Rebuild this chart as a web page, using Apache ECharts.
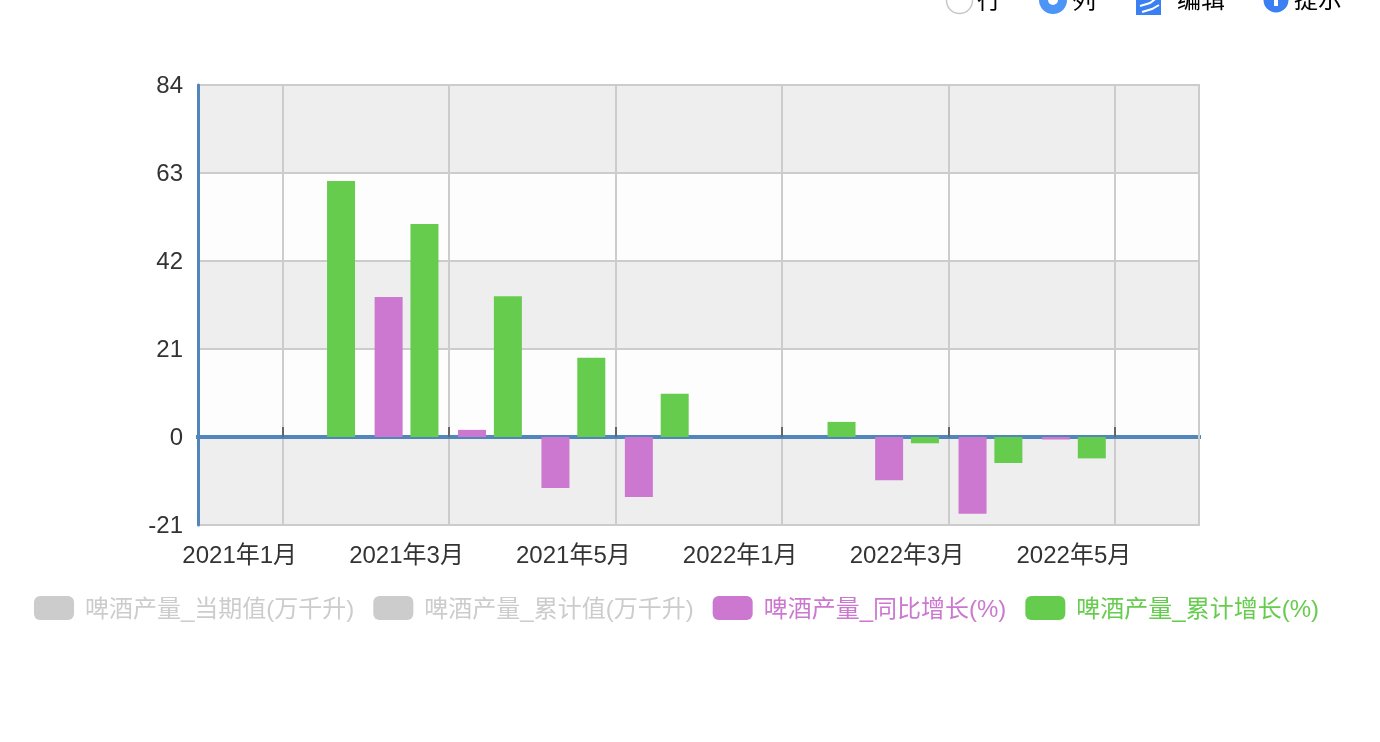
<!DOCTYPE html>
<html>
<head>
<meta charset="utf-8">
<title>啤酒产量</title>
<style>
  html, body { margin: 0; padding: 0; background: #fff; overflow: hidden; }
  #main { width: 1380px; height: 742px; }
</style>
<script src="https://cdn.jsdelivr.net/npm/echarts@6/dist/echarts.min.js"></script>
</head>
<body>
<div id="main"></div>
<script>
const categories = ['2021年1月', '2021年2月', '2021年3月', '2021年4月', '2021年5月', '2021年6月',
  '2022年1月', '2022年2月', '2022年3月', '2022年4月', '2022年5月', '2022年6月'];
const seriesNames = ['啤酒产量_当期值(万千升)', '啤酒产量_累计值(万千升)', '啤酒产量_同比增长(%)', '啤酒产量_累计增长(%)'];
const currentValues = [];
const totalValues = [];
const yoyGrowth = [null, null, 33.4, 1.7, -12.2, -14.3, null, null, -10.3, -18.3, -0.6, null];
const totalGrowth = [null, 61.1, 50.8, 33.6, 18.9, 10.3, null, 3.6, -1.5, -6.2, -5.1, null];
const tickPositions = [1, 3, 5, 7, 9, 11];

const fontFamily = '"Liberation Sans", "Noto Sans CJK SC", sans-serif';
const legendStyles = ['off', 'off', 'pink', 'green'];
const legendText = (color) => ({ color: color, fontSize: 24, fontFamily: fontFamily, padding: [4, 0, 0, 6] });

// toolbar at the top of the page, cut off by the window edge as in the screenshot
const toolbar = [
  { type: 'line', z: 1, shape: { x1: 1199, y1: 85, x2: 1199, y2: 525 }, style: { stroke: '#cccccc', lineWidth: 2 } },
  { type: 'circle', shape: { cx: 959.5, cy: 0.5, r: 13 }, style: { fill: '#fff', stroke: '#c8c8c8', lineWidth: 1.5 } },
  { type: 'text', style: { x: 977, y: -1, text: '行', font: '24px "Noto Sans CJK SC"', fill: '#000', verticalAlign: 'middle' } },
  { type: 'circle', shape: { cx: 1053, cy: 0, r: 14 }, style: { fill: '#4d94f7' } },
  { type: 'circle', shape: { cx: 1053, cy: 0, r: 5 }, style: { fill: '#fff' } },
  { type: 'text', style: { x: 1072, y: -1, text: '列', font: '24px "Noto Sans CJK SC"', fill: '#000', verticalAlign: 'middle' } },
  { type: 'rect', shape: { x: 1136, y: -10, width: 25, height: 25 }, style: { fill: '#3a80f2' } },
  { type: 'polyline', shape: { points: [[1140, 6], [1150, 3], [1158, -3]] }, style: { fill: null, stroke: '#fff', lineWidth: 2 } },
  { type: 'polyline', shape: { points: [[1142, 12], [1152, 9], [1159, 5]] }, style: { fill: null, stroke: '#fff', lineWidth: 2 } },
  { type: 'text', style: { x: 1177, y: -1, text: '编辑', font: '24px "Noto Sans CJK SC"', fill: '#000', verticalAlign: 'middle' } },
  { type: 'circle', shape: { cx: 1276, cy: 0, r: 12.5 }, style: { fill: '#3a80f2' } },
  { type: 'rect', shape: { x: 1274, y: -4, width: 4, height: 10 }, style: { fill: '#fff' } },
  { type: 'text', style: { x: 1294, y: -1, text: '提示', font: '24px "Noto Sans CJK SC"', fill: '#000', verticalAlign: 'middle' } }
];

const myChart = echarts.init(document.getElementById('main'), null, { renderer: 'canvas' });
myChart.setOption({
  animation: false,
  textStyle: { fontFamily: fontFamily },
  color: ['#cccccc', '#cccccc', '#cc77d0', '#66cc4d'],
  graphic: toolbar,
  grid: {
    show: true,
    left: 198,
    right: 181,
    top: 85,
    bottom: 217,
    borderColor: '#cccccc',
    borderWidth: 2,
    backgroundColor: 'transparent'
  },
  legend: {
    left: 29,
    top: 591,
    itemWidth: 40,
    itemHeight: 24,
    itemGap: 19,
    itemStyle: { borderWidth: 0 },
    inactiveColor: '#cccccc',
    selected: { [seriesNames[0]]: false, [seriesNames[1]]: false },
    formatter: (name) => `{${legendStyles[seriesNames.indexOf(name)]}|${name}}`,
    textStyle: {
      rich: {
        off: legendText('#cccccc'),
        pink: legendText('#cc77d0'),
        green: legendText('#66cc4d')
      }
    },
    data: seriesNames
  },
  xAxis: [
    {
      type: 'category',
      data: categories,
      position: 'bottom',
      axisLine: { show: false, onZero: false },
      axisTick: { show: false },
      axisLabel: {
        interval: 1,
        fontSize: 24,
        color: '#333333',
        margin: 19,
        hideOverlap: false
      },
      splitLine: { show: false }
    },
    {
      // the line through zero with its ticks and the vertical grid lines
      type: 'value',
      min: -0.016,
      max: 12.008,
      position: 'bottom',
      axisLine: { show: true, onZero: true, lineStyle: { color: '#5086bb', width: 4, cap: 'square' } },
      axisTick: {
        show: true,
        inside: true,
        length: 10,
        customValues: tickPositions,
        lineStyle: { color: '#666666', width: 2 }
      },
      axisLabel: { show: false },
      splitLine: {
        show: true,
        customValues: tickPositions,
        lineStyle: { color: '#cccccc', width: 2 }
      }
    }
  ],
  yAxis: {
    type: 'value',
    min: -21,
    max: 84,
    interval: 21,
    axisLine: { show: true, onZero: false, lineStyle: { color: '#5086bb', width: 3 } },
    axisTick: { show: false },
    axisLabel: {
      margin: 15,
      formatter: '{v|{value}}',
      rich: { v: { fontSize: 24, color: '#333333', fontFamily: fontFamily, padding: [2, 0, 0, 0] } }
    },
    splitLine: { show: true, lineStyle: { color: '#cccccc', width: 2 } },
    splitArea: { show: true, areaStyle: { color: ['#eeeeee', '#fdfdfd'] } }
  },
  series: [
    { name: seriesNames[0], type: 'bar', data: currentValues, barWidth: 28, barGap: '28%' },
    { name: seriesNames[1], type: 'bar', data: totalValues, barWidth: 28, barGap: '28%' },
    { name: seriesNames[2], type: 'bar', data: yoyGrowth, barWidth: 28, barGap: '28%' },
    { name: seriesNames[3], type: 'bar', data: totalGrowth, barWidth: 28, barGap: '28%' }
  ]
});

window.addEventListener('resize', myChart.resize);
</script>
</body>
</html>
